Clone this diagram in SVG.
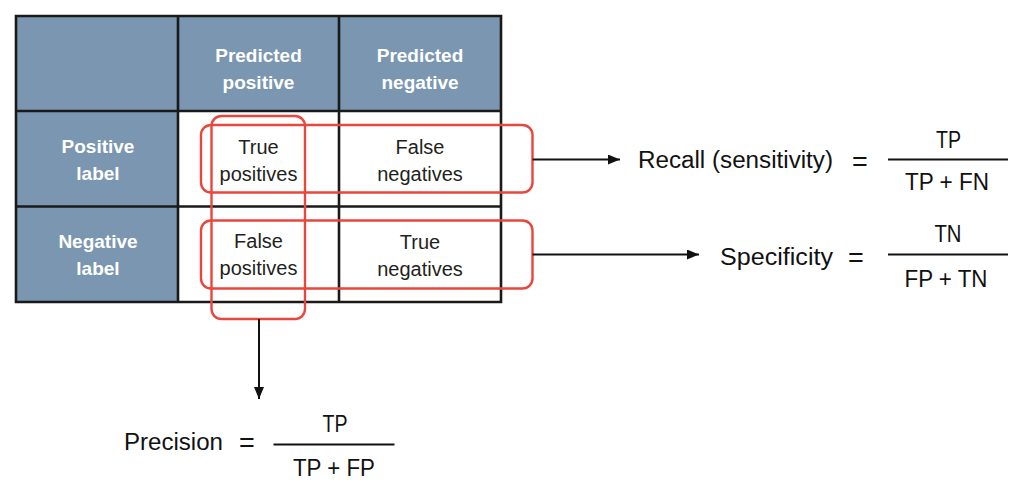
<svg xmlns="http://www.w3.org/2000/svg" width="1017" height="485" viewBox="0 0 1017 485">
<style>
.hdr{fill:#7A96B1}
.cell{fill:#FFFFFF}
.grid{stroke:#1A1A1A;stroke-width:2.6;fill:none}
.ht{font-family:"Liberation Sans",Arial,sans-serif;font-weight:bold;font-size:19px;fill:#FFFFFF;text-anchor:middle}
.ct{font-family:"Liberation Sans",Arial,sans-serif;font-size:20px;fill:#231F20;text-anchor:middle}
.box{fill:none;stroke:#E8473D;stroke-width:2.4}
.lab{font-family:"Liberation Sans",Arial,sans-serif;font-size:23px;fill:#111111}
.eq{font-family:"Liberation Sans",Arial,sans-serif;font-size:27px;fill:#111111;text-anchor:middle}
.frac{font-family:"Liberation Sans",Arial,sans-serif;font-size:24px;fill:#111111;text-anchor:middle}
.bar{stroke:#111111;stroke-width:2}
.arr{stroke:#111111;stroke-width:2;fill:none;marker-end:url(#ah)}
</style>
<defs>
<marker id="ah" markerUnits="userSpaceOnUse" markerWidth="12" markerHeight="10" refX="12" refY="5" orient="auto">
<path d="M0,0 L12,5 L0,10 Z" fill="#111111"/>
</marker>
</defs>
<g id="table">
<rect class="hdr" x="16" y="16" width="485" height="95"/>
<rect class="hdr" x="16" y="111" width="162" height="191"/>
<rect class="cell" x="178" y="111" width="323" height="191"/>
<path class="grid" d="M16,16 H501 V302 H16 Z M178,16 V302 M339,16 V302 M16,111 H501 M16,206.5 H501"/>
</g>
<g id="hdr-pred-pos"><text class="ht" x="258.5" y="62">Predicted</text><text class="ht" x="258.5" y="89">positive</text></g>
<g id="hdr-pred-neg"><text class="ht" x="420" y="62">Predicted</text><text class="ht" x="420" y="89">negative</text></g>
<g id="hdr-pos-label"><text class="ht" x="98" y="153">Positive</text><text class="ht" x="98" y="180">label</text></g>
<g id="hdr-neg-label"><text class="ht" x="98" y="248">Negative</text><text class="ht" x="98" y="275">label</text></g>
<g id="cell-tp"><text class="ct" x="258.5" y="154">True</text><text class="ct" x="258.5" y="181">positives</text></g>
<g id="cell-fn"><text class="ct" x="420" y="154">False</text><text class="ct" x="420" y="181">negatives</text></g>
<g id="cell-fp"><text class="ct" x="258.5" y="248">False</text><text class="ct" x="258.5" y="275">positives</text></g>
<g id="cell-tn"><text class="ct" x="420" y="249">True</text><text class="ct" x="420" y="276">negatives</text></g>
<g id="box-precision"><rect class="box" x="211.5" y="116" width="93.5" height="203" rx="10"/></g>
<g id="box-recall"><rect class="box" x="201" y="125" width="331.5" height="67.5" rx="10"/></g>
<g id="box-specificity"><rect class="box" x="201" y="220.5" width="331.5" height="68" rx="10"/></g>
<g id="connectors">
<line class="arr" x1="532.5" y1="159.5" x2="620" y2="159.5"/>
<line class="arr" x1="532.5" y1="254.5" x2="699" y2="254.5"/>
<line class="arr" x1="259" y1="319" x2="259" y2="399"/>
</g>
<g id="recall">
<text class="lab" x="638" y="168" textLength="195" lengthAdjust="spacingAndGlyphs">Recall (sensitivity)</text>
<text class="eq" x="860" y="171">=</text>
<line class="bar" x1="888" y1="159.5" x2="1008" y2="159.5"/>
<text class="frac" x="948.5" y="147.5" textLength="25" lengthAdjust="spacingAndGlyphs">TP</text>
<text class="frac" x="947" y="190" textLength="84" lengthAdjust="spacingAndGlyphs">TP + FN</text>
</g>
<g id="specificity">
<text class="lab" x="720" y="265" textLength="113" lengthAdjust="spacingAndGlyphs">Specificity</text>
<text class="eq" x="856" y="267">=</text>
<line class="bar" x1="888" y1="254.5" x2="1008" y2="254.5"/>
<text class="frac" x="948" y="242" textLength="27" lengthAdjust="spacingAndGlyphs">TN</text>
<text class="frac" x="946" y="287" textLength="83" lengthAdjust="spacingAndGlyphs">FP + TN</text>
</g>
<g id="precision">
<text class="lab" x="124" y="449.5" textLength="99" lengthAdjust="spacingAndGlyphs">Precision</text>
<text class="eq" x="247" y="452">=</text>
<line class="bar" x1="273.5" y1="444.5" x2="394.5" y2="444.5"/>
<text class="frac" x="335" y="432" textLength="25" lengthAdjust="spacingAndGlyphs">TP</text>
<text class="frac" x="334" y="476" textLength="82" lengthAdjust="spacingAndGlyphs">TP + FP</text>
</g>
</svg>
